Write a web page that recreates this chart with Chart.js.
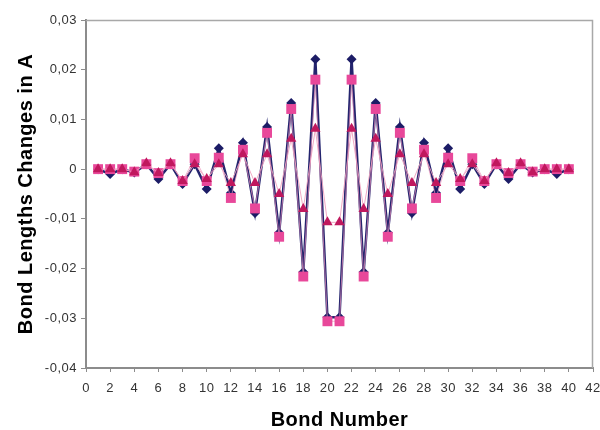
<!DOCTYPE html>
<html>
<head>
<meta charset="utf-8">
<script src="https://cdn.jsdelivr.net/npm/chart.js@4"></script>
<style>
  html, body { margin: 0; padding: 0; background: #fff; }
  #wrap { width: 600px; height: 430px; }
</style>
</head>
<body>
<div id="wrap"><canvas id="chart"></canvas></div>
<script>
// bond numbers 1..40
const bonds = [1, 2, 3, 4, 5, 6, 7, 8, 9, 10, 11, 12, 13, 14, 15, 16, 17, 18, 19, 20,
               21, 22, 23, 24, 25, 26, 27, 28, 29, 30, 31, 32, 33, 34, 35, 36, 37, 38, 39, 40];

// dark blue diamonds
const diamondVals = [0, -0.001, 0, -0.0007, 0.001, -0.002, 0.001, -0.003, 0.001, -0.004,
                     0.0042, -0.0048, 0.0053, -0.0088, 0.0085, -0.0128, 0.0133, -0.0207, 0.0221, -0.0298,
                     -0.0298, 0.0221, -0.0207, 0.0133, -0.0128, 0.0085, -0.0088, 0.0053, -0.0048, 0.0042,
                     -0.004, 0.001, -0.003, 0.001, -0.002, 0.001, -0.0007, 0, -0.001, 0];

// pink squares
const squareVals = [0, 0, 0, -0.0005, 0.001, -0.0008, 0.001, -0.0024, 0.0022, -0.0024,
                    0.0023, -0.0058, 0.0039, -0.0079, 0.0073, -0.0136, 0.0121, -0.0216, 0.018, -0.0306,
                    -0.0306, 0.018, -0.0216, 0.0121, -0.0136, 0.0073, -0.0079, 0.0039, -0.0058, 0.0023,
                    -0.0024, 0.0022, -0.0024, 0.001, -0.0008, 0.001, -0.0005, 0, 0, 0];

// crimson triangles
const triangleVals = [0, 0, 0, -0.0006, 0.0012, -0.0008, 0.0012, -0.0024, 0.001, -0.002,
                      0.001, -0.0028, 0.003, -0.0028, 0.003, -0.005, 0.0061, -0.008, 0.0081, -0.0107,
                      -0.0107, 0.0081, -0.008, 0.0061, -0.005, 0.003, -0.0028, 0.003, -0.0028, 0.001,
                      -0.002, 0.001, -0.0024, 0.0012, -0.0008, 0.0012, -0.0006, 0, 0, 0];

// axis settings
const xMin = 0, xMax = 42, xStep = 2;
const yMin = -0.04, yMax = 0.03, yStep = 0.01;

const toPoints = (vals) => vals.map((v, i) => ({x: bonds[i], y: v}));

// grey box around the plot area (top + right; left/bottom are the axes)
const frame = {
    id: 'frame',
    beforeDraw(chart) {
        chart.ctx.letterSpacing = '0.5px';
    },
    afterDraw(chart) {
        const a = chart.chartArea, ctx = chart.ctx;
        ctx.save();
        ctx.strokeStyle = '#a8a8a8';
        ctx.lineWidth = 1.5;
        ctx.beginPath();
        ctx.moveTo(a.left, a.top + 0.5);
        ctx.lineTo(a.right - 0.5, a.top + 0.5);
        ctx.lineTo(a.right - 0.5, a.bottom);
        ctx.stroke();
        ctx.restore();
    }
};

const fmt = (v) => {
    if (Math.abs(v) < 1e-9) return '0';
    return v.toFixed(2).replace('.', ',');
};

const tickFont = {family: 'Liberation Sans, Arial, sans-serif', size: 13};
const titleFont = {family: 'Liberation Sans, Arial, sans-serif', size: 20, weight: 'bold', lineHeight: 1};

new Chart(document.getElementById('chart'), {
    type: 'scatter',
    data: {
        datasets: [
            {
                label: 'Series 3',
                data: toPoints(triangleVals),
                showLine: true,
                borderColor: 'rgba(240, 160, 190, 0.9)',
                borderWidth: 1,
                pointStyle: 'triangle',
                pointRadius: 6,
                pointBackgroundColor: '#c0185e',
                pointBorderColor: '#c0185e',
                pointBorderWidth: 0,
                order: 0
            },
            {
                label: 'Series 2',
                data: toPoints(squareVals),
                showLine: true,
                borderColor: 'rgba(240, 150, 190, 0.7)',
                borderWidth: 1,
                pointStyle: 'rect',
                pointRadius: 7,
                pointBackgroundColor: '#e8489a',
                pointBorderColor: '#e8489a',
                pointBorderWidth: 0,
                order: 1
            },
            {
                label: 'Series 1',
                data: toPoints(diamondVals),
                showLine: true,
                borderColor: '#24246e',
                borderWidth: 2.5,
                pointStyle: 'rectRot',
                pointRadius: 5,
                pointBackgroundColor: '#1c1c66',
                pointBorderColor: '#1c1c66',
                pointBorderWidth: 0,
                order: 2
            }
        ]
    },
    options: {
        responsive: true,
        maintainAspectRatio: false,
        animation: false,
        layout: {padding: {left: 0, right: 7, top: 20, bottom: 0}},
        plugins: {
            legend: {display: false},
            tooltip: {enabled: false}
        },
        scales: {
            x: {
                type: 'linear',
                min: xMin,
                max: xMax,
                afterFit: (s) => { s.height = 62; s.paddingLeft = 0; s.paddingRight = 0; },
                ticks: {stepSize: xStep, color: '#333', font: tickFont, padding: 9, maxRotation: 0},
                grid: {drawOnChartArea: false, drawTicks: true, tickLength: 4, color: '#8c8c8c'},
                border: {color: '#8c8c8c', width: 2},
                title: {display: true, text: 'Bond Number', color: '#000', font: titleFont, padding: {top: 0, bottom: 0}}
            },
            y: {
                type: 'linear',
                min: yMin,
                max: yMax,
                afterFit: (s) => { s.width = 86; s.paddingTop = 0; s.paddingBottom = 0; },
                ticks: {stepSize: yStep, color: '#333', font: tickFont, padding: 4, callback: fmt},
                grid: {drawOnChartArea: false, drawTicks: true, tickLength: 5, color: '#8c8c8c'},
                border: {color: '#8c8c8c', width: 2},
                title: {display: true, text: 'Bond Lengths Changes in A', color: '#000', font: titleFont, padding: {top: 16, bottom: 0}}
            }
        }
    },
    plugins: [frame]
});
</script>
</body>
</html>
